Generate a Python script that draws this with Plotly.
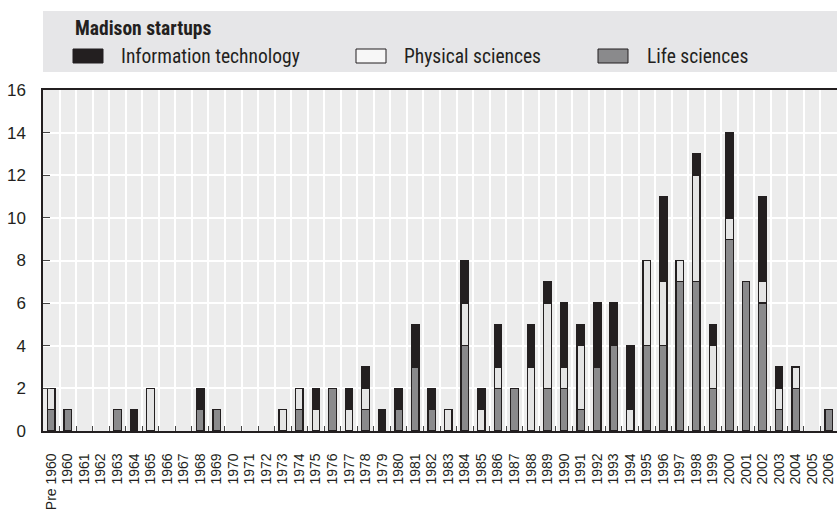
import plotly.graph_objects as go

categories = ["Pre 1960"] + [str(y) for y in range(1960, 2007)]

life_sciences = [1, 1, 0, 0, 1, 0, 0, 0, 0, 1, 1, 0, 0, 0, 0, 1,
                 0, 2, 0, 1, 0, 1, 3, 1, 0, 4, 0, 2, 2, 0, 2, 2,
                 1, 3, 4, 0, 4, 4, 7, 7, 2, 9, 7, 6, 1, 2, 0, 1]
physical_sciences = [1, 0, 0, 0, 0, 0, 2, 0, 0, 0, 0, 0, 0, 0, 1, 1,
                     1, 0, 1, 1, 0, 0, 0, 0, 1, 2, 1, 1, 0, 3, 4, 1,
                     3, 0, 0, 1, 4, 3, 1, 5, 2, 1, 0, 1, 1, 1, 0, 0]
information_technology = [0, 0, 0, 0, 0, 1, 0, 0, 0, 1, 0, 0, 0, 0, 0, 0,
                          1, 0, 1, 1, 1, 1, 2, 1, 0, 2, 1, 2, 0, 2, 1, 3,
                          1, 3, 2, 3, 0, 4, 0, 1, 1, 4, 0, 4, 1, 0, 0, 0]

y_ticks = [0, 2, 4, 6, 8, 10, 12, 14, 16]

DARK = "#231f20"
C_IT = "#231f20"
C_PHYS = "#e4e4e4"
C_LIFE = "#8a8a8c"
NARROW = "Liberation Sans Narrow, Arial Narrow, Roboto Condensed, Liberation Sans, Arial, sans-serif"
SANS = "Liberation Sans, Arial, Helvetica, sans-serif"

fig = go.Figure()
for name, vals, col in [("Life sciences", life_sciences, C_LIFE),
                        ("Physical sciences", physical_sciences, C_PHYS),
                        ("Information technology", information_technology, C_IT)]:
    # zero counts are left empty so no outline is drawn for them
    fig.add_trace(go.Bar(x=categories, y=[v if v else None for v in vals], name=name,
                         marker=dict(color=col, line=dict(color=DARK, width=1.3)),
                         showlegend=False))

# manual legend block (grey box, title, swatches)
H = 341.0  # plot height in px
W = 794.0  # plot width in px
def px_x(p):
    return (p - 43) / W
def px_y(p):
    return (431 - p) / H

shapes = [dict(type="rect", xref="paper", yref="paper",
               x0=px_x(43), x1=1.0, y0=px_y(72), y1=px_y(11),
               fillcolor="#e6e6e8", line=dict(width=0), layer="below")]
annotations = [dict(text="<b>Madison startups</b>", xref="paper", yref="paper",
                    x=px_x(73), y=px_y(29), xanchor="left", yanchor="middle",
                    showarrow=False, font=dict(family=NARROW, size=19.5, color=DARK))]
legend_items = [("Information technology", C_IT, 73, 119),
                ("Physical sciences", "#f7f7f7", 356, 402),
                ("Life sciences", C_LIFE, 598, 645)]
for label, col, sx, tx in legend_items:
    shapes.append(dict(type="rect", xref="paper", yref="paper",
                       x0=px_x(sx), x1=px_x(sx + 30), y0=px_y(63), y1=px_y(49),
                       fillcolor=col, line=dict(color=DARK, width=1)))
    annotations.append(dict(text=label, xref="paper", yref="paper",
                            x=px_x(tx), y=px_y(56), xanchor="left", yanchor="middle",
                            showarrow=False, font=dict(family=NARROW, size=19.5, color=DARK)))

fig.update_layout(
    barmode="stack",
    bargap=0.55,
    width=837, height=512,
    margin=dict(l=43, r=0, t=90, b=81, pad=0, autoexpand=False),
    paper_bgcolor="white",
    plot_bgcolor="#ececec",
    shapes=shapes,
    annotations=annotations,
    font=dict(family=SANS, color=DARK),
)
fig.update_xaxes(
    type="category",
    tickmode="array", tickvals=categories, ticktext=categories,
    tickangle=-90,
    tickson="boundaries",
    ticks="inside", ticklen=5, tickwidth=1, tickcolor="#444",
    showgrid=True, gridcolor="white", gridwidth=1.8,
    showline=True, linecolor=DARK, linewidth=1.5, mirror=True,
    tickfont=dict(family=SANS, size=14, color=DARK),
    ticklabelstandoff=15,
    automargin=False,
)
fig.update_yaxes(
    range=[0, 16],
    tickvals=y_ticks,
    ticks="inside", ticklen=7, tickwidth=1, tickcolor="#444",
    showgrid=True, gridcolor="white", gridwidth=1.8,
    showline=True, linecolor=DARK, linewidth=1.5, mirror=True,
    zeroline=False,
    tickfont=dict(family=SANS, size=17, color=DARK),
    ticklabelstandoff=12,
    automargin=False,
)

fig.write_html("out.html", config={"displayModeBar": False},
               post_script="document.body.style.margin='0';document.body.style.overflow='hidden';")
